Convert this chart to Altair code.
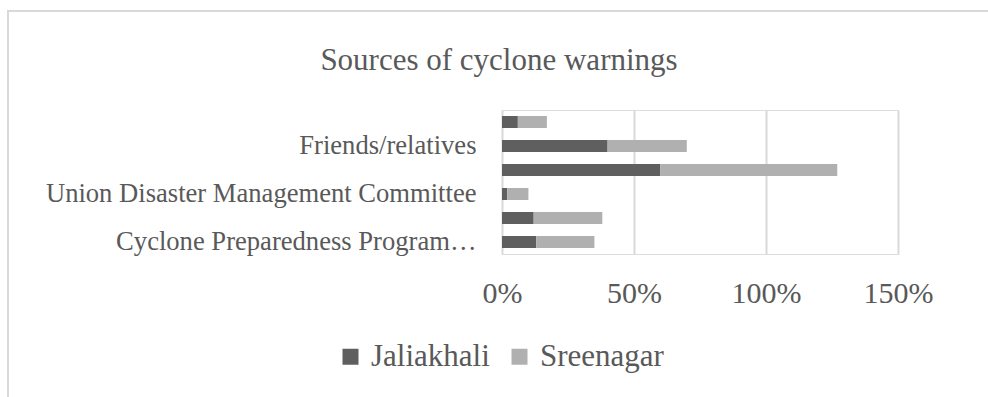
import altair as alt
import pandas as pd

categories = [
    "Cyclone Preparedness Programme (CPP)",
    "Television",
    "Union Disaster Management Committee",
    "Radio",
    "Friends/relatives",
    "Others",
]
shown_labels = [
    "Cyclone Preparedness Programme (CPP)",
    "Union Disaster Management Committee",
    "Friends/relatives",
]
jaliakhali = [13, 12, 2, 60, 40, 6]
sreenagar = [22, 26, 8, 67, 30, 11]
series = ["Jaliakhali", "Sreenagar"]
colors = ["#5f5f5f", "#b0b0b0"]
title_text = "Sources of cyclone warnings"

rows = []
for c, j, s in zip(categories, jaliakhali, sreenagar):
    rows.append({"source": c, "area": "Jaliakhali", "value": j, "ord": 0})
    rows.append({"source": c, "area": "Sreenagar", "value": s, "ord": 1})
df = pd.DataFrame(rows)

FONT = "Liberation Serif"
TXT = "#595959"

bars = alt.Chart(df).mark_bar(size=12).encode(
    x=alt.X(
        "value:Q",
        stack="zero",
        scale=alt.Scale(domain=[0, 150], nice=False),
        axis=alt.Axis(
            values=[0, 50, 100, 150],
            labelExpr="datum.value + '%'",
            labelFlush=False,
            grid=True,
            gridColor="#d9d9d9",
            gridWidth=2,
            domain=False,
            ticks=False,
            labelFont=FONT,
            labelFontSize=30,
            labelColor=TXT,
            labelPadding=24,
            title=None,
        ),
    ),
    y=alt.Y(
        "source:N",
        sort=categories[::-1],
        scale=alt.Scale(paddingInner=0.5, paddingOuter=0.25),
        axis=alt.Axis(
            values=shown_labels,
            labelExpr="datum.label == 'Cyclone Preparedness Programme (CPP)' ? 'Cyclone Preparedness Program\u2026' : datum.label",
            domain=False,
            ticks=False,
            grid=False,
            labelFont=FONT,
            labelFontSize=26.6,
            labelColor=TXT,
            labelPadding=26,
            labelLimit=600,
            title=None,
        ),
    ),
    color=alt.Color(
        "area:N",
        scale=alt.Scale(domain=series, range=colors),
        legend=alt.Legend(
            title=None,
            orient="none",
            legendX=-167,
            legendY=231,
            direction="horizontal",
            symbolType="square",
            symbolSize=256,
            symbolStrokeWidth=0,
            labelFont=FONT,
            labelFontSize=31,
            labelColor=TXT,
            columnPadding=14,
            labelOffset=5,
        ),
    ),
    order=alt.Order("ord:Q"),
)

one = pd.DataFrame({"k": [0]})
border_left = alt.Chart(one).mark_rule(color="#d9d9d9", strokeWidth=2).encode(
    x=alt.value(-494), y=alt.value(-99), y2=alt.value(300)
)
border_top = alt.Chart(one).mark_rule(color="#d9d9d9", strokeWidth=2).encode(
    y=alt.value(-99), x=alt.value(-495), x2=alt.value(500)
)
title = alt.Chart(one).mark_text(
    text=title_text, font=FONT, fontSize=31, color=TXT, align="center", baseline="alphabetic"
).encode(x=alt.value(-3), y=alt.value(-40))

chart = alt.layer(border_left, border_top, title, bars).properties(
    width=396,
    height=144,
    autosize=alt.AutoSizeParams(type="none"),
    padding={"left": 502, "top": 110, "right": 90, "bottom": 143},
).configure_view(stroke=None).configure(background="white")

chart.save("out.html", embed_options={"renderer": "svg", "actions": False})
